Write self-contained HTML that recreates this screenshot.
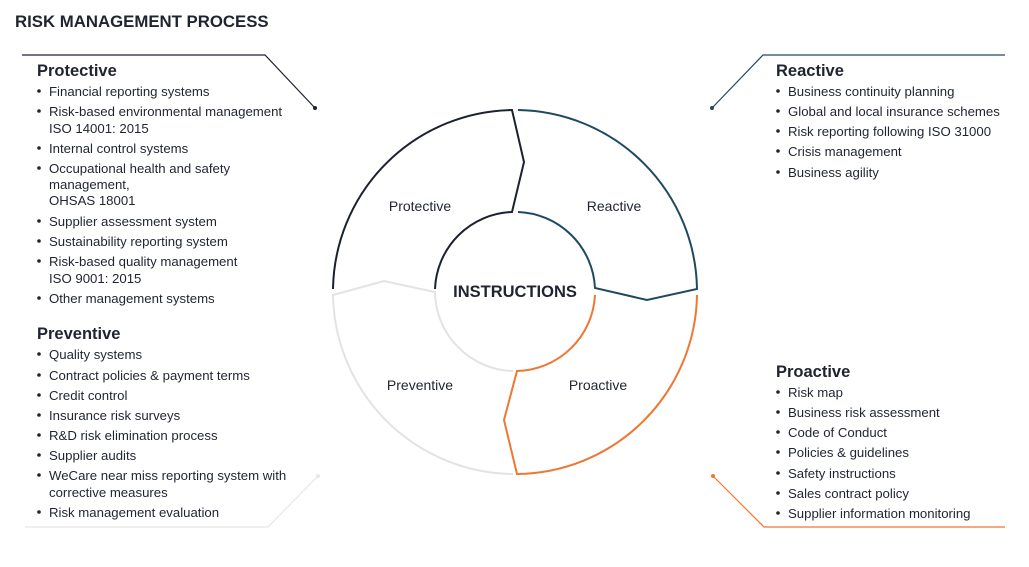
<!DOCTYPE html>
<html><head><meta charset="utf-8"><style>
html,body{margin:0;padding:0;background:#fff;}
svg text{font-family:"Liberation Sans",Arial,sans-serif;fill:#1f2430;}
.h{font-weight:bold;font-size:16.5px;}
.t{font-size:13.2px;fill:#2a2e38;}
</style></head><body>
<svg width="1029" height="562" viewBox="0 0 1029 562" xmlns="http://www.w3.org/2000/svg">
<text x="15" y="27" style="font-weight:bold;font-size:16.8px">RISK MANAGEMENT PROCESS</text>

<g fill="none" stroke-width="1.2">
<polyline points="22,55 265,55 315,108" stroke="#1c2130"/>
<polyline points="712,108 763,55 1005,55" stroke="#1e4a5f"/>
<polyline points="713,476 764,527 1005,527" stroke="#ee7733"/>
<polyline points="25,527 268,527 318,476" stroke="#e6e6e6"/>
</g>
<circle cx="315" cy="108" r="2" fill="#1c2130"/>
<circle cx="712" cy="108" r="2" fill="#1e4a5f"/>
<circle cx="713" cy="476" r="2" fill="#ee7733"/>
<circle cx="318" cy="476" r="2" fill="#e6e6e6"/>

<g fill="none" stroke-width="2">
<path d="M333,289 A182,182 0 0 1 512,110 L524,162 L512,212 A80,80 0 0 0 435,289" stroke="#1c2130"/>
<path d="M518,110 A182,182 0 0 1 697,289 L647,300 L595,288 A80,80 0 0 0 518,212" stroke="#1e4a5f"/>
<path d="M697,295 A182,182 0 0 1 517,474 L504,420 L517,371 A80,80 0 0 0 595,295" stroke="#ee7733"/>
<path d="M513,474 A182,182 0 0 1 333,295 L384,281 L435,292 A80,80 0 0 0 513,371" stroke="#e3e3e3"/>
</g>
<g class="t" text-anchor="middle" style="font-size:14px">
<text x="420" y="211">Protective</text>
<text x="614" y="211">Reactive</text>
<text x="420" y="390">Preventive</text>
<text x="598" y="390">Proactive</text>
</g>
<text x="515" y="297" text-anchor="middle" class="h">INSTRUCTIONS</text>

<text x="37" y="76" class="h">Protective</text>
<g class="t">
<text x="49" y="96">Financial reporting systems</text>
<text x="49" y="116">Risk-based environmental management</text>
<text x="49" y="133">ISO 14001: 2015</text>
<text x="49" y="153">Internal control systems</text>
<text x="49" y="173">Occupational health and safety</text>
<text x="49" y="189">management,</text>
<text x="49" y="205">OHSAS 18001</text>
<text x="49" y="226">Supplier assessment system</text>
<text x="49" y="246">Sustainability reporting system</text>
<text x="49" y="266">Risk-based quality management</text>
<text x="49" y="283">ISO 9001: 2015</text>
<text x="49" y="303">Other management systems</text>
</g>
<g fill="#1f2430">
<circle cx="39" cy="91" r="1.8"/><circle cx="39" cy="111" r="1.8"/><circle cx="39" cy="148" r="1.8"/>
<circle cx="39" cy="168" r="1.8"/><circle cx="39" cy="221" r="1.8"/><circle cx="39" cy="241" r="1.8"/>
<circle cx="39" cy="261" r="1.8"/><circle cx="39" cy="298" r="1.8"/>
</g>

<text x="37" y="339" class="h">Preventive</text>
<g class="t">
<text x="49" y="359">Quality systems</text>
<text x="49" y="380">Contract policies &amp; payment terms</text>
<text x="49" y="400">Credit control</text>
<text x="49" y="420">Insurance risk surveys</text>
<text x="49" y="440">R&amp;D risk elimination process</text>
<text x="49" y="460">Supplier audits</text>
<text x="49" y="480">WeCare near miss reporting system with</text>
<text x="49" y="497">corrective measures</text>
<text x="49" y="517">Risk management evaluation</text>
</g>
<g fill="#1f2430">
<circle cx="39" cy="354" r="1.8"/><circle cx="39" cy="375" r="1.8"/><circle cx="39" cy="395" r="1.8"/>
<circle cx="39" cy="415" r="1.8"/><circle cx="39" cy="435" r="1.8"/><circle cx="39" cy="455" r="1.8"/>
<circle cx="39" cy="475" r="1.8"/><circle cx="39" cy="512" r="1.8"/>
</g>

<text x="776" y="76" class="h">Reactive</text>
<g class="t">
<text x="788" y="96">Business continuity planning</text>
<text x="788" y="116">Global and local insurance schemes</text>
<text x="788" y="136">Risk reporting following ISO 31000</text>
<text x="788" y="156">Crisis management</text>
<text x="788" y="177">Business agility</text>
</g>
<g fill="#1f2430">
<circle cx="778" cy="91" r="1.8"/><circle cx="778" cy="111" r="1.8"/><circle cx="778" cy="131" r="1.8"/>
<circle cx="778" cy="151" r="1.8"/><circle cx="778" cy="172" r="1.8"/>
</g>

<text x="776" y="377" class="h">Proactive</text>
<g class="t">
<text x="788" y="397">Risk map</text>
<text x="788" y="417">Business risk assessment</text>
<text x="788" y="437">Code of Conduct</text>
<text x="788" y="457">Policies &amp; guidelines</text>
<text x="788" y="478">Safety instructions</text>
<text x="788" y="498">Sales contract policy</text>
<text x="788" y="518">Supplier information monitoring</text>
</g>
<g fill="#1f2430">
<circle cx="778" cy="392" r="1.8"/><circle cx="778" cy="412" r="1.8"/><circle cx="778" cy="432" r="1.8"/>
<circle cx="778" cy="452" r="1.8"/><circle cx="778" cy="473" r="1.8"/><circle cx="778" cy="493" r="1.8"/>
<circle cx="778" cy="513" r="1.8"/>
</g>
</svg>
</body></html>
